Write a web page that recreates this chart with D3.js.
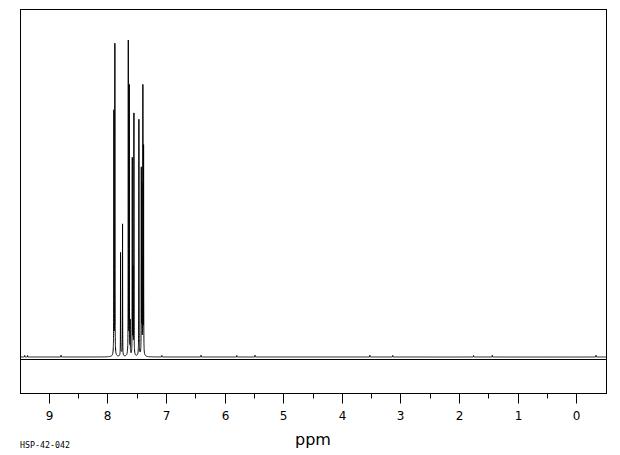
<!DOCTYPE html>
<html><head><meta charset="utf-8">
<script src="https://cdn.jsdelivr.net/npm/d3@7"></script>
<style>html,body{margin:0;padding:0;background:#fff;} svg{display:block}</style>
</head><body>
<svg id="c" width="620" height="455"></svg>
<script>
const peakPpm    = [7.898, 7.881, 7.784, 7.750, 7.652, 7.635, 7.620, 7.584, 7.572, 7.556, 7.471, 7.430, 7.420, 7.403, 7.391];
const peakHeight = [78,    99,    33,    42,    100,   86,    12,    63,    29,    77,    75,    60,    55,    86,    67];
// low, broad feet under the multiplets
const footPpm    = [7.89, 7.77, 7.645, 7.57, 7.47, 7.41];
const footHeight = [3.0,  1.2,  2.6,   2.0,  1.4,  2.2];
// tiny baseline spikes
const spikePpm    = [9.42, 9.37, 8.80, 7.08, 6.41, 5.80, 5.49, 3.53, 3.14, 1.76, 1.44, -0.33];
const spikeHeight = [0.5,  0.5,  0.6,  0.5,  0.6,  0.5,  0.6,  0.6,  0.5,  0.5,  0.6,  0.6];
const majorTicks = [9, 8, 7, 6, 5, 4, 3, 2, 1, 0];
const minorTicks = [8.5, 7.5, 6.5, 5.5, 4.5, 3.5, 2.5, 1.5, 0.5];
const xLabel = "ppm";
const footLabel = "HSP-42-042";
const lineHalfWidth = 0.0015; // ppm
const footHalfWidth = 0.012;  // ppm

const svg = d3.select("#c");
const L = 20.5, R = 606.5, T = 9.5, B = 393.5;
const x = d3.scaleLinear().domain([9.5, -0.5]).range([20, 606]);
const y = d3.scaleLinear().domain([0, 100]).range([357, 40]);

function lor(v, c, h, w) { const d = v - c; return h * w * w / (w * w + d * d); }
const sharpPpm = peakPpm.concat(spikePpm);
const sharpTarget = peakHeight.concat(spikeHeight);
// amplitudes so that the drawn tops match the observed heights
let amp = sharpTarget.slice();
for (let it = 0; it < 4; it++) {
  amp = sharpTarget.map((t, i) => {
    let other = 0;
    sharpPpm.forEach((c, j) => { if (j !== i) other += lor(sharpPpm[i], c, amp[j], lineHalfWidth); });
    footPpm.forEach((c, j) => { other += lor(sharpPpm[i], c, footHeight[j], footHalfWidth); });
    return Math.max(0, t - other);
  });
}
function intensity(v) {
  let s = 0;
  for (let i = 0; i < sharpPpm.length; i++) s += lor(v, sharpPpm[i], amp[i], lineHalfWidth);
  for (let i = 0; i < footPpm.length; i++) s += lor(v, footPpm[i], footHeight[i], footHalfWidth);
  return s;
}
let pts = d3.range(9.5, -0.5, -0.002);
sharpPpm.forEach(p => { pts = pts.concat(d3.range(p - 0.01, p + 0.01, 0.0003)); pts.push(p); });
pts.sort((a, b) => b - a);
const data = pts.map(p => [p, intensity(p)]);

// frame
svg.append("rect").attr("x", L).attr("y", T).attr("width", R - L).attr("height", B - T)
  .attr("fill", "none").attr("stroke", "#000").attr("stroke-width", 1);

// horizontal reference line
svg.append("line").attr("x1", L).attr("x2", R).attr("y1", 359.5).attr("y2", 359.5)
  .attr("stroke", "#000").attr("stroke-width", 1);

// spectrum
svg.append("path").datum(data)
  .attr("d", d3.line().x(d => x(d[0])).y(d => y(d[1])))
  .attr("fill", "none").attr("stroke", "#000").attr("stroke-width", 1);

// ticks
const crisp = v => Math.floor(v) + 0.5;
svg.selectAll(".maj").data(majorTicks).enter().append("line")
  .attr("x1", d => crisp(x(d))).attr("x2", d => crisp(x(d)))
  .attr("y1", B).attr("y2", B + 10).attr("stroke", "#000");
svg.selectAll(".min").data(minorTicks).enter().append("line")
  .attr("x1", d => crisp(x(d))).attr("x2", d => crisp(x(d)))
  .attr("y1", B).attr("y2", B + 5).attr("stroke", "#000");
svg.selectAll(".lab").data(majorTicks).enter().append("text")
  .attr("x", d => crisp(x(d))).attr("y", 419.5)
  .attr("text-anchor", "middle")
  .attr("font-family", "DejaVu Sans").attr("font-size", 12).attr("fill", "#000")
  .text(d => d);

svg.append("text").attr("x", 313).attr("y", 445)
  .attr("text-anchor", "middle").attr("font-family", "DejaVu Sans").attr("font-size", 16)
  .attr("fill", "#000").text(xLabel);
svg.append("text").attr("x", 20).attr("y", 447.5)
  .attr("font-family", "DejaVu Sans Mono").attr("font-size", 8.3)
  .attr("fill", "#000").text(footLabel);
</script>
</body></html>
